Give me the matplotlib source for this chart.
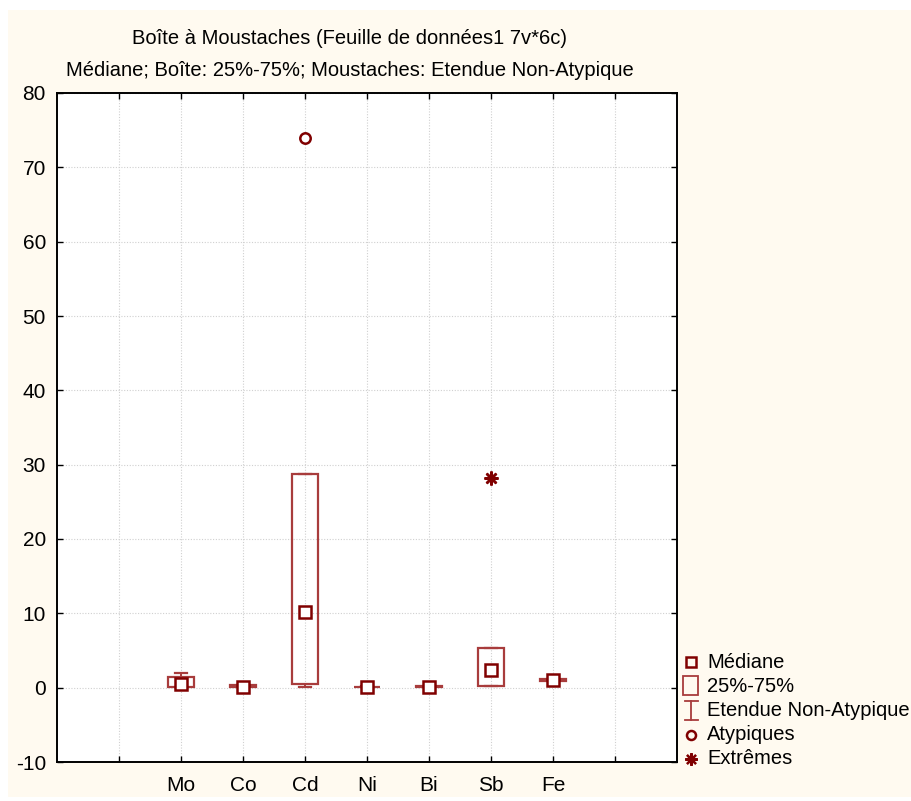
import matplotlib
matplotlib.use("Agg")
import matplotlib.pyplot as plt
from matplotlib.patches import Rectangle
import numpy as np

plt.rcParams['font.family'] = ['Liberation Sans', 'DejaVu Sans']
plt.rcParams['axes.unicode_minus'] = False

# box plot summary values
categories = ['Mo', 'Co', 'Cd', 'Ni', 'Bi', 'Sb', 'Fe']
medians = [0.55, 0.15, 10.2, 0.1, 0.13, 2.35, 1.03]
q1 = [0.15, 0.08, 0.45, 0.05, 0.08, 0.22, 0.95]
q3 = [1.4, 0.3, 28.7, 0.15, 0.2, 5.3, 1.1]
whisk_lo = [0.1, 0.05, 0.1, 0.03, 0.05, 0.2, 0.93]
whisk_hi = [2.0, 0.35, 28.7, 0.18, 0.22, 5.3, 1.12]
outlier_cat = ['Cd']
outlier_val = [73.9]
extreme_cat = ['Sb']
extreme_val = [28.2]

W, H = 912, 801
dark = '#800000'
boxc = '#a83c3c'
cream = '#fffaf0'

fig = plt.figure(figsize=(W / 100, H / 100), dpi=100, facecolor='white')
fig.patches.append(Rectangle((8 / W, 1 - 797 / H), 1 - 8 / W, (797 - 10) / H,
                             transform=fig.transFigure, facecolor=cream,
                             edgecolor='none', zorder=-10))

ax = fig.add_axes([57 / W, 1 - 762 / H, (677 - 57) / W, (762 - 93) / H])
ax.set_facecolor('white')

pos = np.arange(1, len(categories) + 1)
bw = 0.41
cw = 0.2
for x, m, a, b, lo, hi in zip(pos, medians, q1, q3, whisk_lo, whisk_hi):
    ax.add_patch(Rectangle((x - bw / 2, a), bw, b - a, facecolor='none',
                           edgecolor=boxc, lw=1.6, zorder=3))
    ax.plot([x, x], [lo, a], color=boxc, lw=1.4, zorder=3)
    ax.plot([x, x], [b, hi], color=boxc, lw=1.4, zorder=3)
    ax.plot([x - cw / 2, x + cw / 2], [lo, lo], color=boxc, lw=1.6, zorder=3)
    ax.plot([x - cw / 2, x + cw / 2], [hi, hi], color=boxc, lw=1.6, zorder=3)
    ax.plot([x], [m], marker='s', ms=8, mfc='white', mec=dark, mew=1.8, zorder=4)

for c, v in zip(outlier_cat, outlier_val):
    ax.plot([categories.index(c) + 1], [v], marker='o', ms=7.5, mfc='white',
            mec=dark, mew=1.8, zorder=4)
for c, v in zip(extreme_cat, extreme_val):
    ax.plot([categories.index(c) + 1], [v], marker=(8, 2, 0), ms=10,
            color=dark, mew=1.8, zorder=4)

ax.set_xlim(-1, 9)
ax.set_ylim(-10, 80)
ax.set_xticks(np.arange(0, 9))
ax.set_xticklabels([''] + categories + [''])
ax.set_yticks(np.arange(-10, 81, 10))
ax.tick_params(direction='in', top=True, right=True, length=4, width=1,
               labelsize=15, colors='black', pad=8)
ax.tick_params(axis='x', pad=10)
ax.grid(True, color='#d0d0d0', linestyle=(0, (1, 1.5)), lw=0.8)
ax.set_axisbelow(True)
for s in ax.spines.values():
    s.set_linewidth(1.4)

fig.text(350 / W, 1 - 38 / H, 'Boîte à Moustaches (Feuille de données1 7v*6c)',
         ha='center', va='center', fontsize=14.5)
fig.text(350 / W, 1 - 70 / H, 'Médiane; Boîte: 25%-75%; Moustaches: Etendue Non-Atypique',
         ha='center', va='center', fontsize=14.5)

# legend drawn in pixel coordinates
lg = fig.add_axes([0, 0, 1, 1], facecolor='none')
lg.set_xlim(0, W)
lg.set_ylim(H, 0)
lg.axis('off')
rows = [662, 687, 711, 735, 759]
labels = ['Médiane', '25%-75%', 'Etendue Non-Atypique', 'Atypiques', 'Extrêmes']
mx = 691
lg.plot([mx], [rows[0]], marker='s', ms=6.5, mfc='none', mec=dark, mew=1.8)
lg.add_patch(Rectangle((683, 676), 15, 19, facecolor='none', edgecolor=boxc, lw=1.3))
lg.plot([mx, mx], [701, 720], color=boxc, lw=1.3)
lg.plot([685, 698], [701, 701], color=boxc, lw=1.3)
lg.plot([685, 698], [720, 720], color=boxc, lw=1.3)
lg.plot([mx], [rows[3]], marker='o', ms=6.5, mfc='none', mec=dark, mew=1.8)
lg.plot([mx], [rows[4]], marker=(8, 2, 0), ms=9, color=dark, mew=1.6)
for y, t in zip(rows, labels):
    lg.text(707, y, t, ha='left', va='center', fontsize=14.5)

fig.savefig('out.png', dpi=100, facecolor=fig.get_facecolor())
